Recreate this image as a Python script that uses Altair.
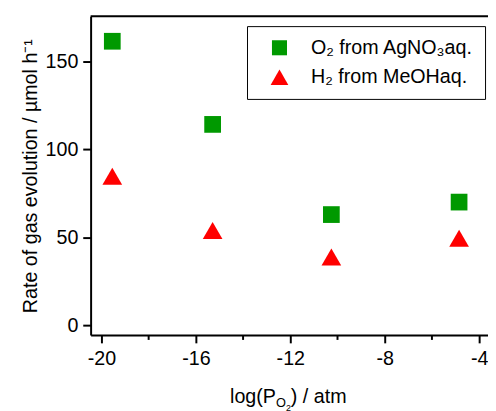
import altair as alt
import pandas as pd

# ---- data ----
log_po2 = [-19.54, -15.29, -10.26, -4.85]
o2_rate = [161.5, 114.2, 62.9, 70.0]
h2_rate = [84.7, 53.9, 38.8, 49.4]
series = ["O₂ from AgNO₃aq.", "H₂ from MeOHaq."]
x_major = [-20, -16, -12, -8, -4]
x_minor = [-18, -14, -10, -6]
y_ticks = [0, 50, 100, 150]
x_domain = [-20.458, -3.625]
y_domain = [-5.6, 175.7]

W, H = 404, 324
FONT = "Liberation Sans"
FS = 20

df = pd.DataFrame({
    "x": log_po2 + log_po2,
    "y": o2_rate + h2_rate,
    "series": [series[0]] * len(o2_rate) + [series[1]] * len(h2_rate),
})
minor_df = pd.DataFrame({"x": x_minor})
one = pd.DataFrame({"a": [0]})

square_path = "M-0.85,-0.85H0.85V0.85H-0.85Z"
tri_path = "M0,-0.866L-1,0.866L1,0.866Z"

x_scale = alt.Scale(domain=x_domain, nice=False, zero=False)
y_scale = alt.Scale(domain=y_domain, nice=False, zero=False)

x_axis = alt.Axis(values=x_major, title=None, labelExpr="'' + datum.value",
                  tickSize=8, labelPadding=6)

legend = alt.Legend(
    title=None, orient="none", legendX=159, legendY=10,
    strokeColor="black", padding=12, symbolOffset=11, labelOffset=22,
    rowPadding=10, symbolSize=324, symbolStrokeWidth=0, labelLimit=0,
    labelFont=FONT, labelFontSize=FS, labelColor="black",
)

points = alt.Chart(df).mark_point(filled=True, opacity=1, size=400, strokeWidth=0).encode(
    x=alt.X("x:Q", scale=x_scale, axis=x_axis),
    y=alt.Y("y:Q", scale=y_scale, axis=alt.Axis(
        values=y_ticks, title="Rate of gas evolution / µmol h⁻¹",
        tickSize=8, labelPadding=5, titlePadding=5)),
    color=alt.Color("series:N", scale=alt.Scale(domain=series, range=["#009900", "#ff0000"]), legend=legend),
    shape=alt.Shape("series:N", scale=alt.Scale(domain=series, range=[square_path, tri_path]), legend=legend),
)

minor = alt.Chart(minor_df).mark_rule(color="black", strokeWidth=2).encode(
    x=alt.X("x:Q", scale=x_scale, axis=x_axis),
    y=alt.value(H), y2=alt.value(H + 5),
)

top_line = alt.Chart(one).mark_rule(color="black", strokeWidth=2).encode(
    x=alt.value(0), x2=alt.value(W), y=alt.value(0),
)

def txt(s, x, y, size):
    return alt.Chart(one).mark_text(
        text=s, align="left", baseline="alphabetic", font=FONT, fontSize=size, color="black"
    ).encode(x=alt.value(x), y=alt.value(y))

x0 = 141.75
xt = alt.layer(
    txt("log(P", x0, 393, FS),
    txt("O", x0 + 46.7, 397, 13),
    txt("2", x0 + 56.8, 401, 9),
    txt(") / atm", x0 + 61.8, 393, FS),
)

chart = alt.layer(points, minor, top_line, xt).properties(
    width=W, height=H,
    autosize=alt.AutoSizeParams(type="none"),
    padding={"left": 84, "top": 5, "right": 0, "bottom": 83},
).configure_view(strokeWidth=0).configure_axis(
    domainColor="black", domainWidth=2, tickColor="black", tickWidth=2,
    labelFont=FONT, labelFontSize=FS, labelColor="black",
    titleFont=FONT, titleFontSize=FS, titleColor="black", titleFontWeight="normal",
    grid=False,
)

chart.save("out.html", embed_options={"renderer": "svg", "actions": False})
